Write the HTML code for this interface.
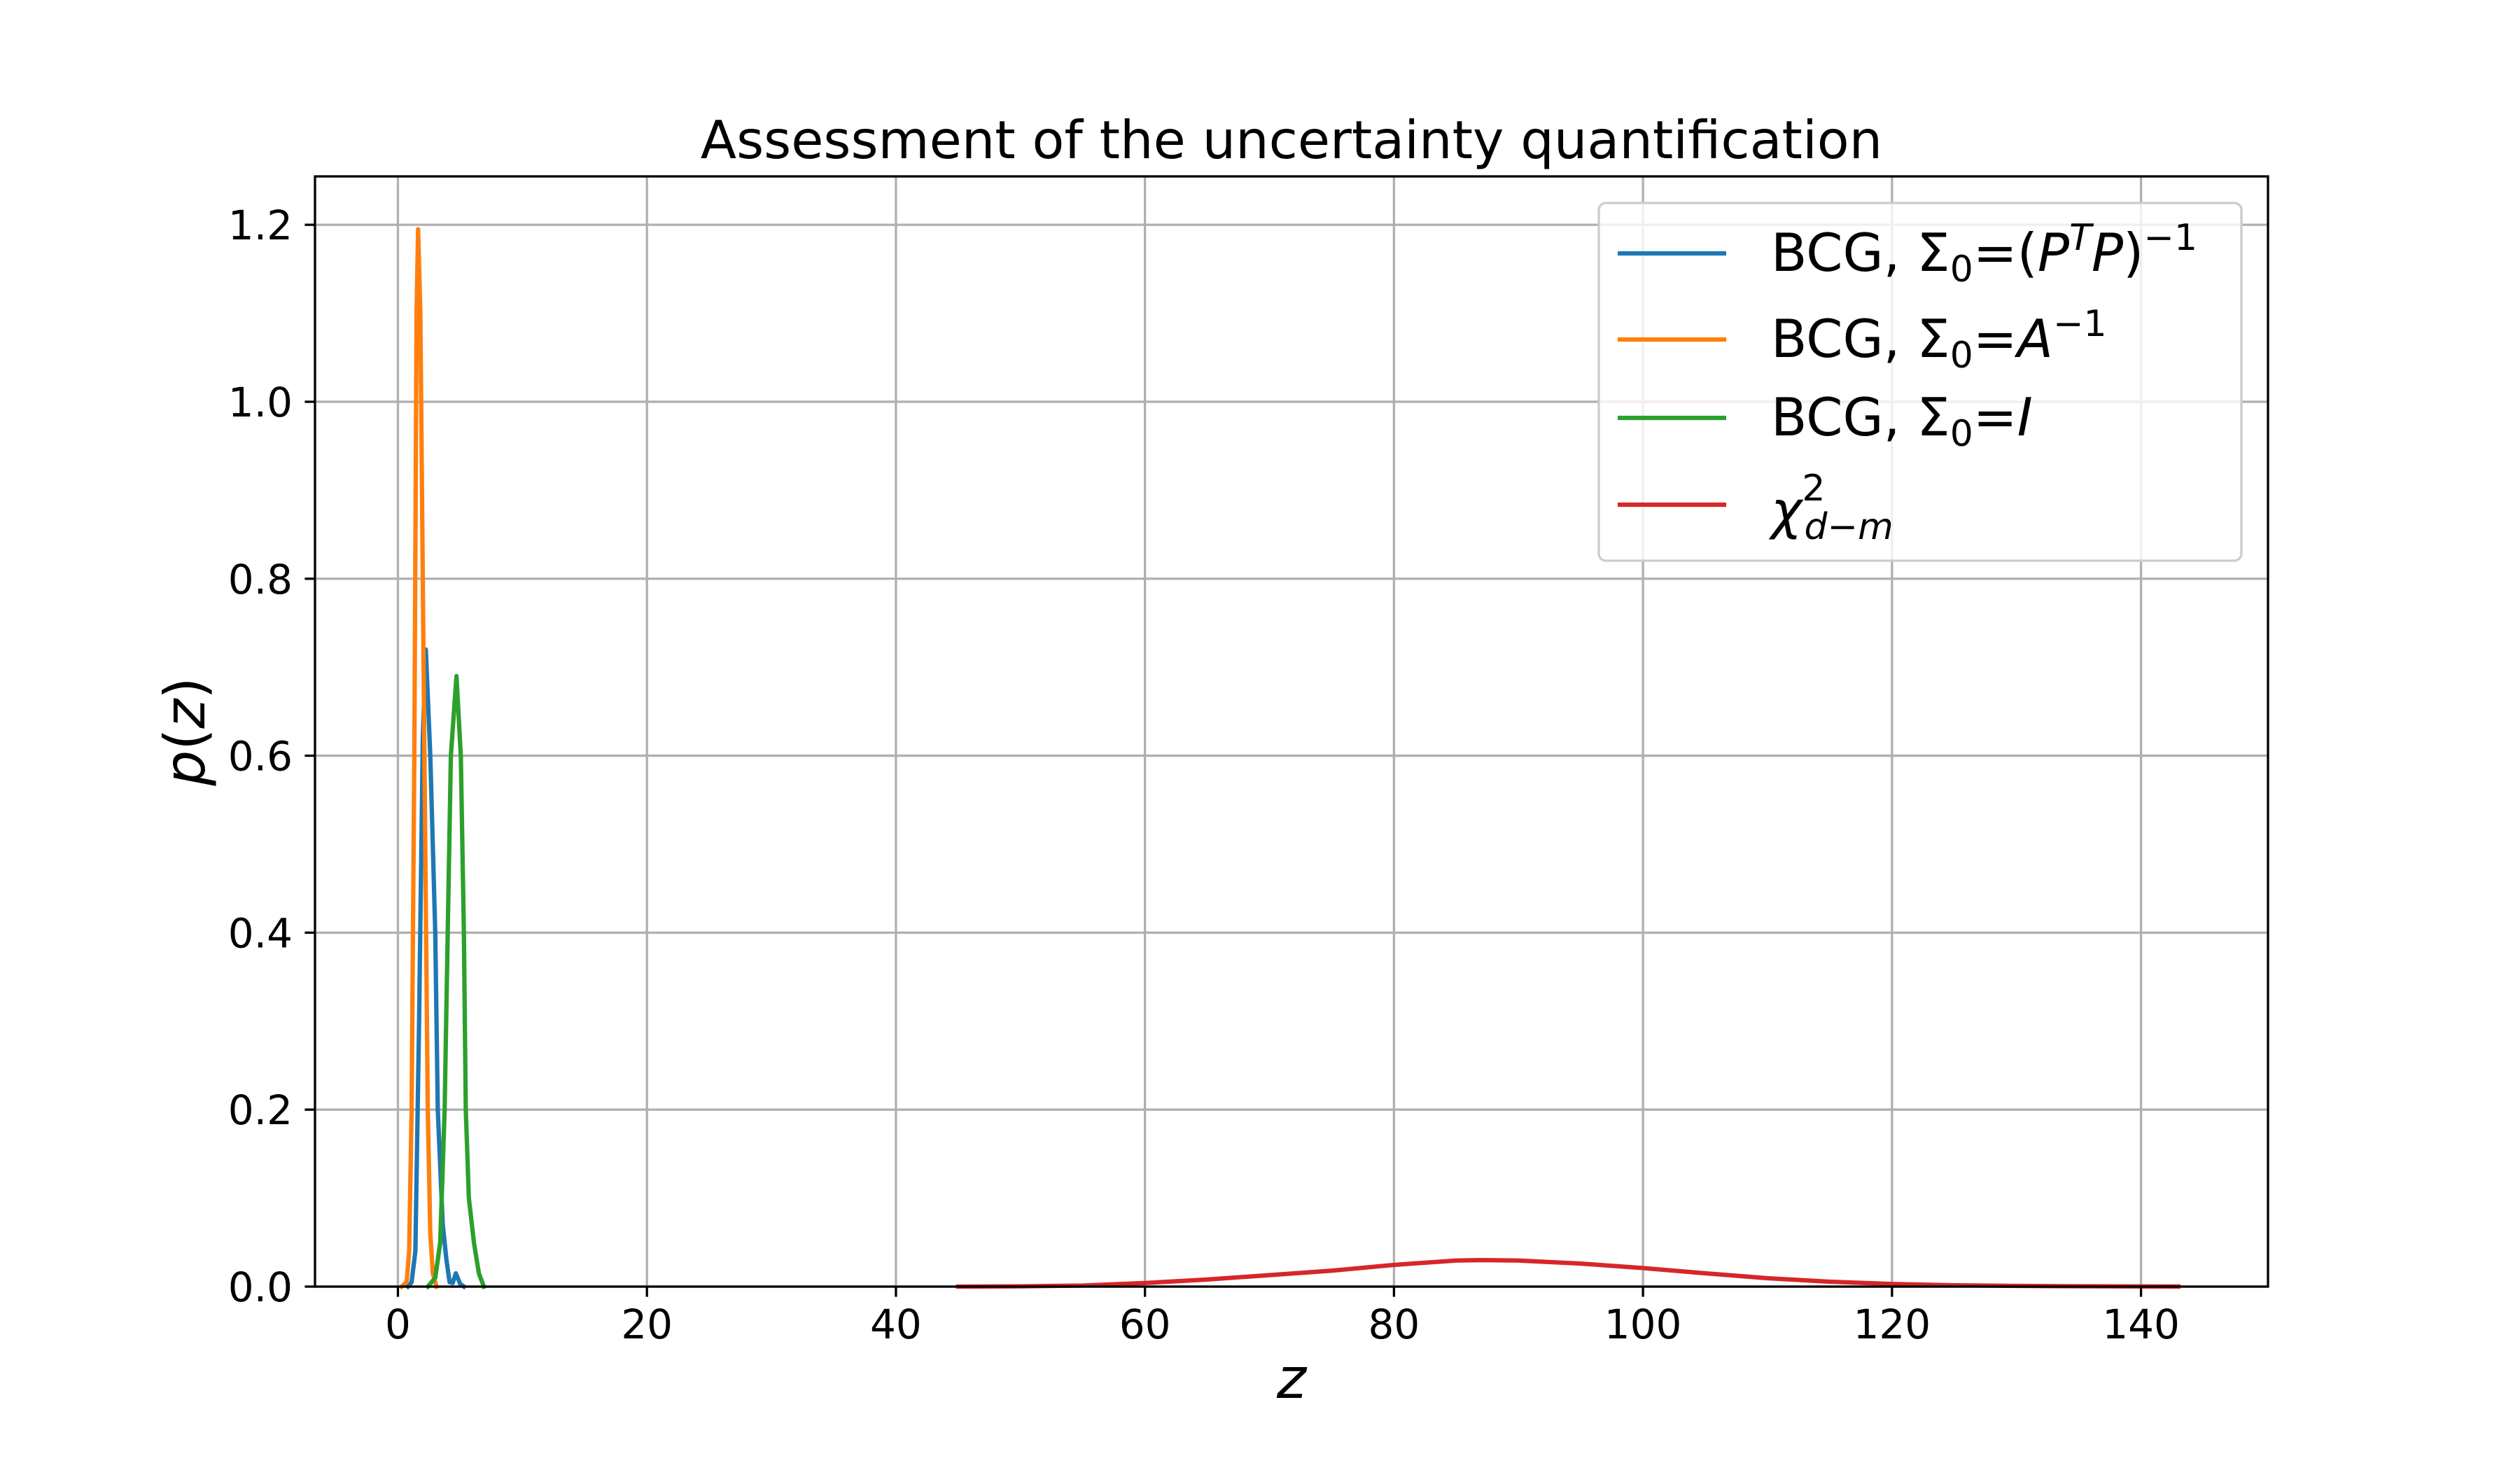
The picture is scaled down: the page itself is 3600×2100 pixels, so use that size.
<!DOCTYPE html>
<html><head><meta charset="utf-8"><style>
html,body{margin:0;padding:0;background:#fff}
svg{display:block;font-family:"DejaVu Sans","Liberation Sans",sans-serif}
</style></head><body>
<svg id="chart" width="3600" height="2100" viewBox="0 0 3600 2100" xmlns="http://www.w3.org/2000/svg">
<rect x="0" y="0" width="3600" height="2100" fill="#fff"/>
<g id="grid"></g>
<g id="series"></g>
<rect x="450" y="252" width="2790" height="1586" fill="none" stroke="#000" stroke-width="3.3"/>
<g id="ticks"></g>
<text x="1845" y="226" font-size="75" text-anchor="middle">Assessment of the uncertainty quantification</text>
<text x="1845" y="1997" font-size="80" font-style="italic" text-anchor="middle">z</text>
<text transform="translate(292,1045) rotate(-90)" font-size="80" text-anchor="middle"><tspan font-style="italic">p</tspan>(<tspan font-style="italic">z</tspan>)</text>
<g>
<rect x="2284" y="290" width="918" height="511" rx="10" fill="#fff" fill-opacity="0.8" stroke="#cccccc" stroke-width="3.3"/>
<g><line x1="2311" y1="362" x2="2466" y2="362" stroke="#1f77b4" stroke-width="6.25"/>
<text x="2530" y="387" font-size="75">BCG, Σ<tspan font-size="52" dy="15">0</tspan><tspan dy="-15">=(</tspan><tspan font-style="italic">P</tspan><tspan font-size="52" font-style="italic" dy="-30">T</tspan><tspan font-style="italic" dy="30">P</tspan>)<tspan font-size="52" dy="-30">−1</tspan></text></g>
<g><line x1="2311" y1="485" x2="2466" y2="485" stroke="#ff7f0e" stroke-width="6.25"/>
<text x="2530" y="510" font-size="75">BCG, Σ<tspan font-size="52" dy="15">0</tspan><tspan dy="-15">=</tspan><tspan font-style="italic">A</tspan><tspan font-size="52" dy="-30">−1</tspan></text></g>
<g><line x1="2311" y1="597" x2="2466" y2="597" stroke="#2ca02c" stroke-width="6.25"/>
<text x="2530" y="622" font-size="75">BCG, Σ<tspan font-size="52" dy="15">0</tspan><tspan dy="-15">=</tspan><tspan font-style="italic">I</tspan></text></g>
<g><line x1="2311" y1="721" x2="2466" y2="721" stroke="#d62728" stroke-width="6.25"/>
<text x="2530" y="755" font-size="75" font-style="italic">χ<tspan font-size="52" font-style="normal" dy="-40">2</tspan><tspan font-size="52" dx="-30" dy="55">d−m</tspan></text></g>
</g>
</svg>
<script>
const xTicks = [0, 20, 40, 60, 80, 100, 120, 140];
const yTicks = [0.0, 0.2, 0.4, 0.6, 0.8, 1.0, 1.2];
const blueX = [0.8, 1.1, 1.4, 1.7, 2.0, 2.24, 2.6, 3.0, 3.2, 3.6, 3.9, 4.15, 4.4, 4.65, 5.0, 5.3];
const blueY = [0, 0.005, 0.04, 0.3, 0.62, 0.72, 0.6, 0.4, 0.2, 0.07, 0.03, 0.005, 0.004, 0.015, 0.003, 0];
const orangeX = [0.3, 0.7, 0.9, 1.1, 1.32, 1.5, 1.62, 1.8, 2.13, 2.4, 2.6, 2.8, 3.1];
const orangeY = [0, 0.005, 0.04, 0.2, 0.6, 1.1, 1.195, 1.1, 0.6, 0.2, 0.06, 0.015, 0];
const greenX = [2.4, 3.0, 3.4, 3.75, 4.0, 4.25, 4.7, 5.05, 5.3, 5.45, 5.7, 6.1, 6.5, 6.9];
const greenY = [0, 0.01, 0.05, 0.2, 0.4, 0.6, 0.69, 0.6, 0.4, 0.2, 0.1, 0.05, 0.015, 0];
const redX = [45, 50, 55, 60, 65, 70, 75, 80, 85, 87, 90, 95, 100, 105, 110, 115, 120, 125, 130, 135, 143];
const redY = [0, 0.0003, 0.0012, 0.004, 0.008, 0.013, 0.018, 0.0245, 0.0295, 0.030, 0.0295, 0.026, 0.021, 0.015, 0.0095, 0.0055, 0.003, 0.0015, 0.0008, 0.0004, 0.0001];

const L=450,R=3240,T=252,B=1838, XMIN=-6.66, XMAX=150.2, YMIN=0, YMAX=1.2547;
const sx=v=>L+(v-XMIN)/(XMAX-XMIN)*(R-L);
const sy=v=>B-(v-YMIN)/(YMAX-YMIN)*(B-T);
const NS='http://www.w3.org/2000/svg';
const grid=document.getElementById('grid'), ticks=document.getElementById('ticks'), series=document.getElementById('series');
function mk(tag, attrs, parent){const e=document.createElementNS(NS,tag);for(const k in attrs)e.setAttribute(k,attrs[k]);parent.appendChild(e);return e;}
xTicks.forEach(v=>{
  const x=sx(v);
  const g=mk('line',{x1:x,y1:T,x2:x,y2:B,stroke:'#b0b0b0','stroke-width':3.3},grid);
  
  
  const t=mk('line',{x1:x,y1:B,x2:x,y2:B+14.6,stroke:'#000','stroke-width':3.3},ticks);
  
  
  const l=mk('text',{x:x,y:1912,'font-size':58,'text-anchor':'middle'},ticks);
  l.textContent=String(v);
  
  
});
yTicks.forEach(v=>{
  const y=sy(v);
  const g=mk('line',{x1:L,y1:y,x2:R,y2:y,stroke:'#b0b0b0','stroke-width':3.3},grid);
  
  
  const t=mk('line',{x1:L-14.6,y1:y,x2:L,y2:y,stroke:'#000','stroke-width':3.3},ticks);
  
  
  const l=mk('text',{x:418,y:y+21,'font-size':58,'text-anchor':'end'},ticks);
  l.textContent=v.toFixed(1);
  
  
});
function line(xs,ys,color,name){
  const d=xs.map((x,i)=>(i?'L':'M')+sx(x).toFixed(1)+','+sy(ys[i]).toFixed(1)).join(' ');
  const p=mk('path',{d:d,fill:'none',stroke:color,'stroke-width':6.25,'stroke-linejoin':'round','stroke-linecap':'square'},series);
  
  
}
line(redX,redY,'#d62728','chi2-line');
line(blueX,blueY,'#1f77b4','bcg-ptp-line');
line(orangeX,orangeY,'#ff7f0e','bcg-ainv-line');
line(greenX,greenY,'#2ca02c','bcg-identity-line');
</script>
</body></html>
